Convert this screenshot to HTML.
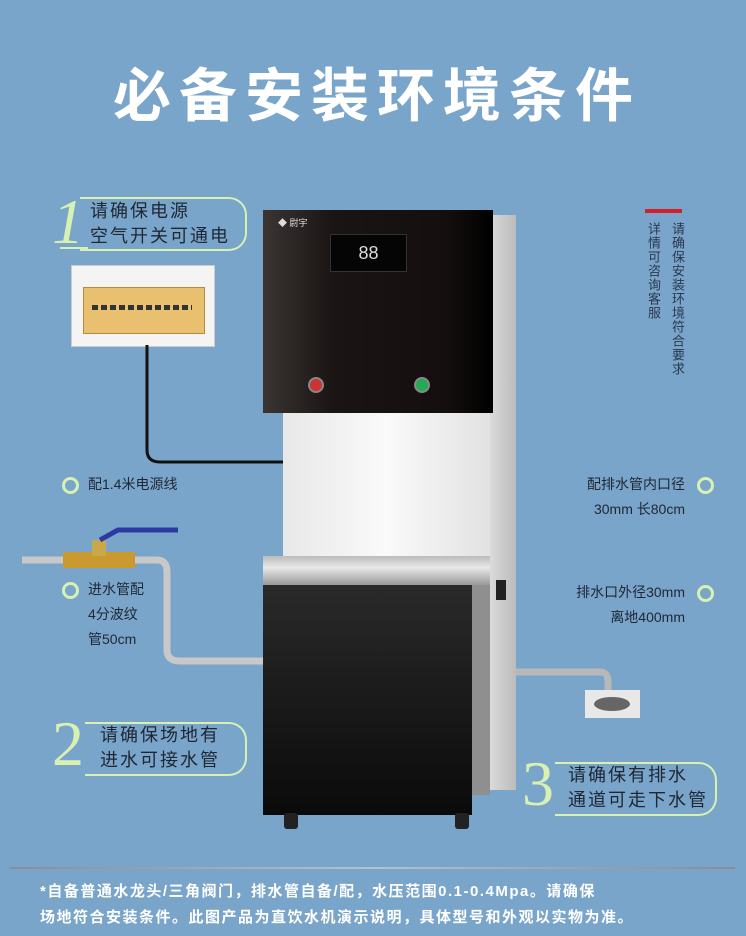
<!DOCTYPE html>
<html><head><meta charset="utf-8"><style>
body{margin:0;width:746px;height:936px;overflow:hidden;background:#7aa5cb;position:relative;font-family:"Liberation Sans","Noto Sans CJK SC",sans-serif}
.a{position:absolute}
.t{color:#1f2733;font-size:14px;line-height:25px}
.box{position:absolute;border:2px solid #d8f0b2;border-left:none;border-radius:0 18px 18px 0;}
.num{position:absolute;color:#d8f0b2;font-family:"Liberation Serif",serif;font-style:italic;font-size:64px;line-height:64px}
.bt{position:absolute;color:#1f2733;font-size:18px;line-height:25px;letter-spacing:2px}
.dot{position:absolute;width:11px;height:11px;border:3px solid #d8f0b2;border-radius:50%}
.v{position:absolute;writing-mode:vertical-rl;font-size:13px;line-height:15px;color:#2a3850;letter-spacing:1px}
</style></head><body>
<div class="a" style="left:0;top:62px;width:746px;text-align:center;color:#fff;font-size:58px;font-weight:bold;letter-spacing:8px;line-height:70px;padding-left:8px;box-sizing:border-box">必备安装环境条件</div>

<!-- box1 -->
<div class="box" style="left:80px;top:197px;width:165px;height:50px"></div>
<div class="a" style="left:60px;top:247px;width:28px;border-top:2px solid #d8f0b2"></div>
<div class="num" style="left:52px;top:190px">1</div>
<div class="bt" style="left:90px;top:199px">请确保电源<br>空气开关可通电</div>

<!-- breaker -->
<div class="a" style="left:71px;top:265px;width:142px;height:80px;background:#f4f4f2;border:1px solid #ccc"></div>
<div class="a" style="left:83px;top:287px;width:120px;height:45px;background:#e9c070;border:1px solid #b88a3a"></div>
<div class="a" style="left:92px;top:305px;width:100px;height:5px;background:repeating-linear-gradient(90deg,#333 0 6px,transparent 6px 9px)"></div>

<svg class="a" style="left:0;top:0" width="746" height="936">
<path d="M147 345 V450 Q147 462 160 462 H286" fill="none" stroke="#111" stroke-width="3"/>
<path d="M22 560 H157 Q167 560 167 572 V650 Q167 661 180 661 H263" fill="none" stroke="#c8c8c8" stroke-width="7"/>
<rect x="63" y="552" width="72" height="16" fill="#c99a2e"/>
<rect x="92" y="540" width="14" height="16" fill="#c9a84a"/>
<path d="M100 540 L118 530 H178" stroke="#2a3aa0" stroke-width="5" fill="none"/>
<path d="M505 672 H600 Q608 672 608 682 V700" fill="none" stroke="#b8b8b8" stroke-width="7"/>
<rect x="585" y="690" width="55" height="28" fill="#e8e8e8"/>
<ellipse cx="612" cy="704" rx="18" ry="7" fill="#666"/>
</svg>

<!-- machine -->
<div class="a" style="left:488px;top:215px;width:28px;height:575px;background:linear-gradient(90deg,#ddd,#bbb)"></div>
<div class="a" style="left:283px;top:413px;width:207px;height:145px;background:linear-gradient(90deg,#e8e8e8,#fafafa,#e2e2e2)"></div>
<div class="a" style="left:263px;top:210px;width:230px;height:203px;background:linear-gradient(90deg,#3a3533,#1a1514 30%,#140f0e 80%,#000)"></div>
<div class="a" style="left:330px;top:234px;width:75px;height:36px;background:#050505;border:1px solid #333;color:#ddd;font-size:18px;text-align:center;line-height:36px">88</div>
<div class="a" style="left:278px;top:216px;color:#ddd;font-size:9px">◆ 尉宇</div>
<div class="a" style="left:308px;top:377px;width:12px;height:12px;border-radius:50%;background:#c33;border:2px solid #888"></div>
<div class="a" style="left:414px;top:377px;width:12px;height:12px;border-radius:50%;background:#2a5;border:2px solid #888"></div>
<div class="a" style="left:263px;top:556px;width:227px;height:29px;background:linear-gradient(180deg,#bbb,#e8e8e8 40%,#9a9a9a)"></div>
<div class="a" style="left:263px;top:585px;width:209px;height:230px;background:linear-gradient(180deg,#2a2a2a,#0a0a0a)"></div>
<div class="a" style="left:472px;top:585px;width:18px;height:210px;background:#8f8f8f"></div>
<div class="a" style="left:496px;top:580px;width:10px;height:20px;background:#222"></div>
<div class="a" style="left:284px;top:813px;width:14px;height:16px;background:#222;border-radius:3px"></div>
<div class="a" style="left:455px;top:813px;width:14px;height:16px;background:#222;border-radius:3px"></div>

<!-- vertical text -->
<div class="a" style="left:645px;top:209px;width:37px;height:4px;background:#d3202a"></div>
<div class="v" style="left:670px;top:222px">请确保安装环境符合要求</div>
<div class="v" style="left:646px;top:222px">详情可咨询客服</div>

<!-- left labels -->
<div class="dot" style="left:62px;top:477px"></div>
<div class="t a" style="left:88px;top:472px">配1.4米电源线</div>
<div class="dot" style="left:62px;top:582px"></div>
<div class="t a" style="left:88px;top:577px">进水管配<br>4分波纹<br>管50cm</div>

<!-- right labels -->
<div class="dot" style="left:697px;top:477px"></div>
<div class="t a" style="left:560px;top:472px;width:125px;text-align:right">配排水管内口径<br>30mm 长80cm</div>
<div class="dot" style="left:697px;top:585px"></div>
<div class="t a" style="left:540px;top:580px;width:145px;text-align:right">排水口外径30mm<br>离地400mm</div>

<!-- box2 -->
<div class="box" style="left:85px;top:722px;width:160px;height:50px"></div>
<div class="num" style="left:52px;top:712px;font-style:normal">2</div>
<div class="bt" style="left:100px;top:723px">请确保场地有<br>进水可接水管</div>

<!-- box3 -->
<div class="box" style="left:555px;top:762px;width:160px;height:50px"></div>
<div class="num" style="left:522px;top:752px;font-style:normal">3</div>
<div class="bt" style="left:568px;top:763px">请确保有排水<br>通道可走下水管</div>

<div class="a" style="left:10px;top:867px;width:725px;height:2px;background:linear-gradient(90deg,#8a8aa0,#b8c0d0,#8a8aa0)"></div>
<div class="a" style="left:40px;top:879px;color:#fff;font-size:15px;font-weight:bold;line-height:26px;letter-spacing:1.5px;white-space:nowrap">*自备普通水龙头/三角阀门，排水管自备/配，水压范围0.1-0.4Mpa。请确保<br>场地符合安装条件。此图产品为直饮水机演示说明，具体型号和外观以实物为准。</div>
</body></html>
